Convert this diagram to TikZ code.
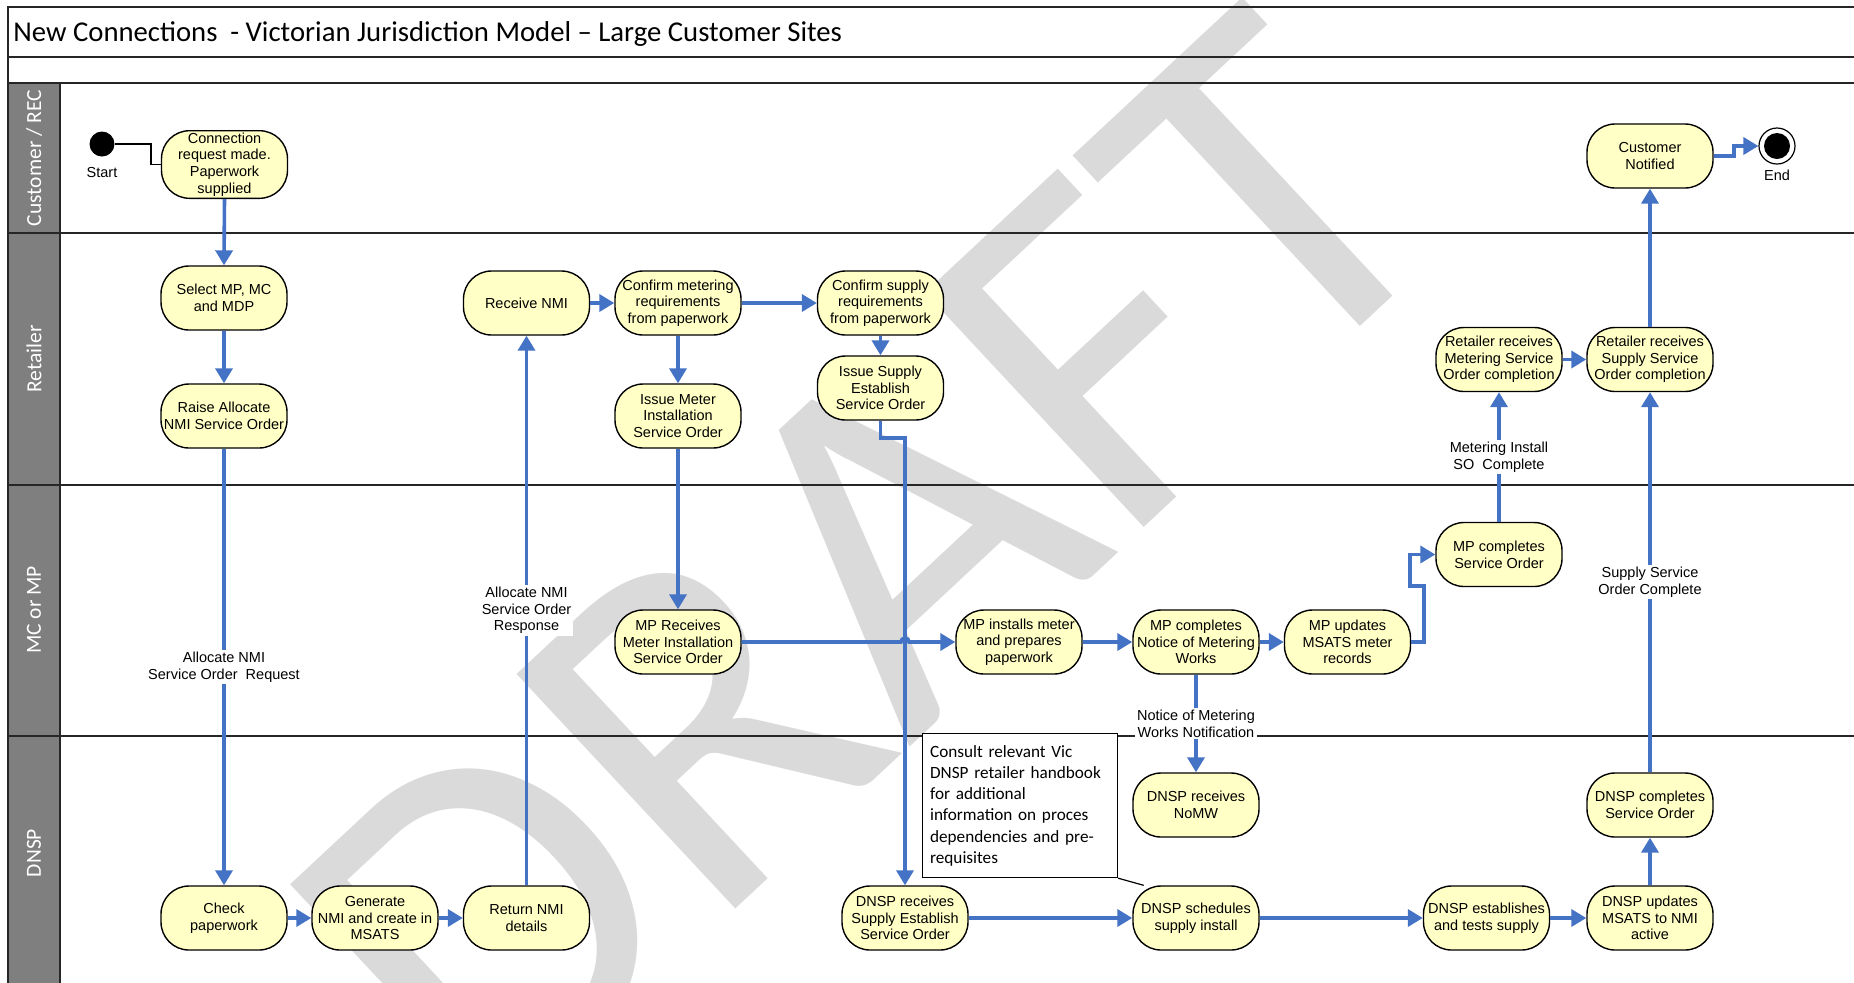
\documentclass[tikz,border=0pt]{standalone}
\usepackage{fontspec}
\setmainfont{Liberation Sans}
\newfontfamily\carlito{Carlito}
\usetikzlibrary{arrows.meta,calc}
\definecolor{flowblue}{RGB}{68,114,196}
\definecolor{actfill}{RGB}{255,255,198}
\definecolor{lanegray}{RGB}{127,127,127}
\definecolor{wmgray}{RGB}{218,218,218}
\tikzset{
  act/.style={draw=black, line width=0.7pt, fill=actfill, rounded corners=14pt,
    minimum width=63pt, minimum height=32pt, inner sep=1pt, align=center,
    font=\fontsize{7.25}{8.35}\selectfont},
  flow/.style={draw=flowblue, line width=1.8pt, -{Triangle[length=7.5pt,width=8.5pt]}},
  elabel/.style={fill=white, inner sep=1pt, align=center, font=\fontsize{7.25}{8.35}\selectfont},
  smalltxt/.style={inner sep=0pt, font=\fontsize{7.25}{8.35}\selectfont},
  lanetxt/.style={rotate=90, text=white, inner sep=0pt, font=\carlito\fontsize{10.75}{12}\selectfont},
  frameline/.style={draw=black!85, line width=0.8pt},
  thinline/.style={draw=black, line width=0.6pt},
  notebox/.style={draw=black, line width=0.6pt, fill=white, anchor=north west, align=left,
    minimum width=97.5pt, minimum height=72pt, text width=90pt, inner xsep=3.75pt,
    font=\carlito\fontsize{8.6}{10.6}\selectfont},
}
\begin{document}
\begin{tikzpicture}[x=0.5pt,y=-0.5pt]
\useasboundingbox (0,0) rectangle (1854,982);
\begin{scope}
\clip (0,0) rectangle (1854,982);
% watermark
\node[rotate=43, text=wmgray, inner sep=0pt, font=\carlito\fontsize{250}{250}\selectfont] (wm) at (866,568) {DRAFT};
% frame and lanes
\fill[lanegray] (8,83) rectangle (60,995);
\draw[frameline] (8,995) -- (8,7) -- (1860,7);
\draw[frameline] (8,57) -- (1860,57);
\draw[frameline] (8,83) -- (1860,83);
\draw[frameline] (8,233) -- (1860,233);
\draw[frameline] (8,485) -- (1860,485);
\draw[frameline] (8,736) -- (1860,736);
\draw[frameline] (60,83) -- (60,995);
\end{scope}
\node[anchor=west, inner sep=0pt, font=\carlito\fontsize{14.35}{17}\selectfont] (title) at (13,34) {New Connections\ \ - Victorian Jurisdiction Model – Large Customer Sites};
\node[lanetxt] (lcust) at (34,158) {Customer / REC};
\node[lanetxt] (lret) at (34,359) {Retailer};
\node[lanetxt] (lmc) at (34,610) {MC or MP};
\node[lanetxt] (ldnsp) at (34,853) {DNSP};

% start / end
\node[circle, fill=black, minimum size=12.5pt, inner sep=0pt] (start) at (102,144) {};
\node[smalltxt] (startlbl) at (102,172) {Start};
\node[circle, draw=black, line width=0.6pt, fill=white, minimum size=18pt, inner sep=0pt] (endo) at (1777,146) {};
\node[circle, fill=black, minimum size=13pt, inner sep=0pt] (endi) at (1777,146) {};
\node[smalltxt] (endlbl) at (1777,175) {End};

% activities
\node[act] (conn) at (224.5,164.5) {Connection\\request made.\\Paperwork\\supplied};
\node[act] (custnot) at (1650,156) {Customer\\Notified};
\node[act] (selmp) at (224,298) {Select MP, MC\\and MDP};
\node[act] (raise) at (224,416) {Raise Allocate\\NMI Service Order};
\node[act] (recnmi) at (526.5,303) {Receive NMI};
\node[act] (confmet) at (678,303) {Confirm metering\\requirements\\from paperwork};
\node[act] (confsup) at (880.5,303) {Confirm supply\\requirements\\from paperwork};
\node[act] (issmet) at (678,416) {Issue Meter\\Installation\\Service Order};
\node[act] (isssup) at (880.5,388) {Issue Supply\\Establish\\Service Order};
\node[act] (retmet) at (1499,359.5) {Retailer receives\\Metering Service\\Order completion};
\node[act] (retsup) at (1650,359.5) {Retailer receives\\Supply Service\\Order completion};
\node[act] (mprec) at (678,642) {MP Receives\\Meter Installation\\Service Order};
\node[act] (mpinst) at (1019,642) {MP installs meter\\and prepares\\paperwork};
\node[act] (mpcompn) at (1196,642) {MP completes\\Notice of Metering\\Works};
\node[act] (mpupd) at (1347.5,642) {MP updates\\MSATS meter\\records};
\node[act] (mpcomps) at (1499,554.5) {MP completes\\Service Order};
\node[act] (check) at (224,918) {Check\\paperwork};
\node[act] (gen) at (375,918) {Generate\\NMI and create in\\MSATS};
\node[act] (retnmi) at (526.5,918) {Return NMI\\details};
\node[act] (dnsprec) at (905,918) {DNSP receives\\Supply Establish\\Service Order};
\node[act] (nomw) at (1196,805) {DNSP receives\\NoMW};
\node[act] (dnspsch) at (1196,918) {DNSP schedules\\supply install};
\node[act] (dnspest) at (1486.5,918) {DNSP establishes\\and tests supply};
\node[act] (dnspupd) at (1650,918) {DNSP updates\\MSATS to NMI\\active};
\node[act] (dnspcomp) at (1650,805) {DNSP completes\\Service Order};

% note
\node[notebox] (note) at (922,733) {Consult relevant Vic\\DNSP retailer handbook\\for additional\\information on proces\\dependencies and pre-\\requisites};
\draw[thinline] (note.south east) -- (dnspsch.148);

% connectors
\draw[thinline] (start.east) -| (151,164.5) -- (conn.west);
\draw[flow] (conn.south) -- (selmp.north);
\draw[flow] (selmp.south) -- (raise.north);
\draw[flow] (raise.south) -- node[elabel, pos=0.5] {Allocate NMI\\Service Order\ \ Request} (check.north);
\draw[flow] (check.east) -- (gen.west);
\draw[flow] (gen.east) -- (retnmi.west);
\draw[flow] (retnmi.north) -- node[elabel, pos=0.5] {Allocate NMI\\Service Order\\Response} (recnmi.south);
\draw[flow] (recnmi.east) -- (confmet.west);
\draw[flow] (confmet.east) -- (confsup.west);
\draw[flow] (confmet.south) -- (issmet.north);
\draw[flow] (confsup.south) -- (isssup.north);
\draw[flow] (issmet.south) -- (mprec.north);
\draw[flow] (isssup.south) -- (880.5,438) -| (dnsprec.north);
\draw[flow] (mprec.east) -- (901,642) arc[start angle=180, end angle=0, radius=2pt] -- (mpinst.west);
\draw[flow] (mpinst.east) -- (mpcompn.west);
\draw[flow] (mpcompn.east) -- (mpupd.west);
\draw[flow] (mpupd.east) -- (1424,642) -- (1424,586) -- (1410,586) |- (mpcomps.west);
\draw[flow] (mpcomps.north) -- node[elabel, pos=0.5] {Metering Install\\SO\ \ Complete} (retmet.south);
\draw[flow] (retmet.east) -- (retsup.west);
\draw[flow] (retsup.north) -- (custnot.south);
\draw[flow] (custnot.east) -- ++(20,0) |- (endo.west);
\draw[flow] (mpcompn.south) -- node[elabel, pos=0.5] {Notice of Metering\\Works Notification} (nomw.north);
\draw[flow] (dnsprec.east) -- (dnspsch.west);
\draw[flow] (dnspsch.east) -- (dnspest.west);
\draw[flow] (dnspest.east) -- (dnspupd.west);
\draw[flow] (dnspupd.north) -- (dnspcomp.south);
\draw[flow] (dnspcomp.north) -- node[elabel, pos=0.5] {Supply Service\\Order Complete} (retsup.south);
\end{tikzpicture}
\end{document}
